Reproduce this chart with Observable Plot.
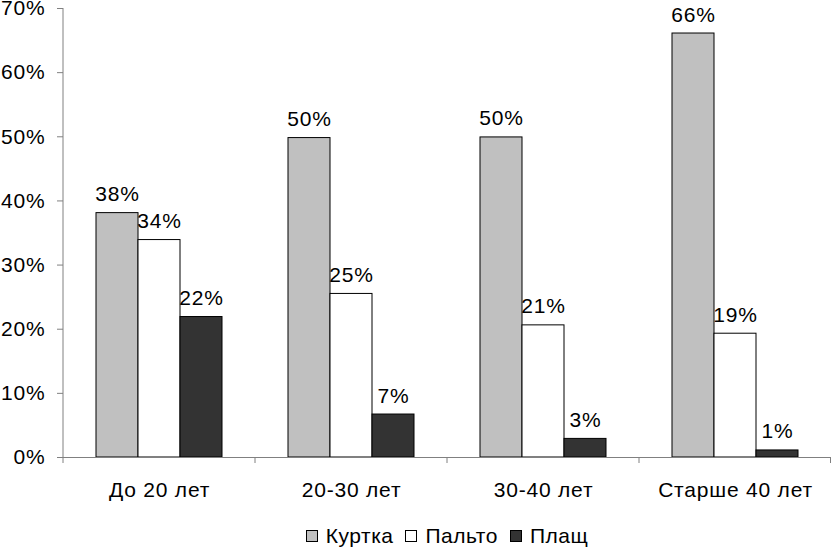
<!DOCTYPE html>
<html><head><meta charset="utf-8">
<script src="https://cdn.jsdelivr.net/npm/d3@7"></script>
<script src="https://cdn.jsdelivr.net/npm/@observablehq/plot@0.6"></script>
<style>
body{margin:0;background:#fff;font-family:"Liberation Sans",Arial,sans-serif;}
svg text{letter-spacing:0.8px;}
#legend{display:flex;justify-content:center;align-items:center;padding-left:63px;height:60px;font-size:21px;letter-spacing:0.5px;color:#000;}
.item{display:flex;align-items:center;margin:0 6px;}
.sw{width:10px;height:10px;border:1px solid #000;margin-right:8px;}
</style>
</head><body><div id="chart"></div><div id="legend"></div>
<script>
const categories = ["До 20 лет", "20-30 лет", "30-40 лет", "Старше 40 лет"];
const series = ["Куртка", "Пальто", "Плащ"];
const kurtka = [38.1, 49.8, 49.9, 66.1];
const palto = [33.9, 25.5, 20.6, 19.3];
const plashch = [21.9, 6.7, 2.9, 1.1];
const kurtkaLabels = ["38%", "50%", "50%", "66%"];
const paltoLabels = ["34%", "25%", "21%", "19%"];
const plashchLabels = ["22%", "7%", "3%", "1%"];
const colors = ["#c0c0c0", "#ffffff", "#333333"];
const yTicks = [0, 10, 20, 30, 40, 50, 60, 70];

const valuesBySeries = [kurtka, palto, plashch];
const labelsBySeries = [kurtkaLabels, paltoLabels, plashchLabels];
const data = [];
categories.forEach((c, i) => series.forEach((s, j) => data.push({category: c, series: s, value: valuesBySeries[j][i], label: labelsBySeries[j][i]})));

const font = "Liberation Sans, Arial, sans-serif";
const chart = Plot.plot({
  width: 831, height: 506,
  marginTop: 8, marginLeft: 63, marginRight: 0, marginBottom: 49,
  style: {fontFamily: font, fontSize: "21px", background: "#fff", color: "#000", overflow: "visible"},
  fx: {domain: categories, padding: 0, label: null, axis: null},
  x: {domain: series, paddingInner: 0, paddingOuter: 0.75, axis: null},
  y: {domain: [0, 70], label: null, axis: null},
  color: {domain: series, range: colors},
  marks: [
    Plot.barY(data, {fx: "category", x: "series", y: "value", fill: "series", stroke: "#000", strokeWidth: 1}),
    Plot.text(data, {fx: "category", x: "series", y: "value", text: "label", lineAnchor: "bottom", dy: -12, fontSize: 21, fill: "#000"}),
    Plot.ruleY([0], {stroke: "#808080"}),
    Plot.axisY({ticks: yTicks, tickFormat: d => d + "%", tickSize: 6, tickPadding: 12, fontSize: 21, stroke: "#808080", fill: "#000", label: null}),
    Plot.axisFx({anchor: "bottom", tickSize: 0, tickPadding: 25, fontSize: 21, fill: "#000", label: null})
  ]
});
document.getElementById("chart").appendChild(chart);

// axis line and category boundary ticks from the plot's own scales
const fx = chart.scale("fx"), y = chart.scale("y");
const svg = d3.select(chart);
const x0 = fx.apply(categories[0]);
svg.append("line").attr("x1", x0).attr("x2", x0).attr("y1", y.apply(70)).attr("y2", y.apply(0)).attr("stroke", "#808080");
const bounds = categories.map(c => fx.apply(c)).concat([fx.apply(categories[categories.length - 1]) + fx.bandwidth]);
bounds.forEach(b => { const bx = Math.min(b, 830.5); svg.append("line").attr("x1", bx).attr("x2", bx).attr("y1", y.apply(0)).attr("y2", y.apply(0) + 6).attr("stroke", "#808080"); });

const legend = document.getElementById("legend");
series.forEach((s, i) => {
  const it = document.createElement("div"); it.className = "item";
  const sw = document.createElement("div"); sw.className = "sw"; sw.style.background = colors[i];
  const t = document.createElement("span"); t.textContent = s;
  it.appendChild(sw); it.appendChild(t); legend.appendChild(it);
});
</script>
</body></html>
